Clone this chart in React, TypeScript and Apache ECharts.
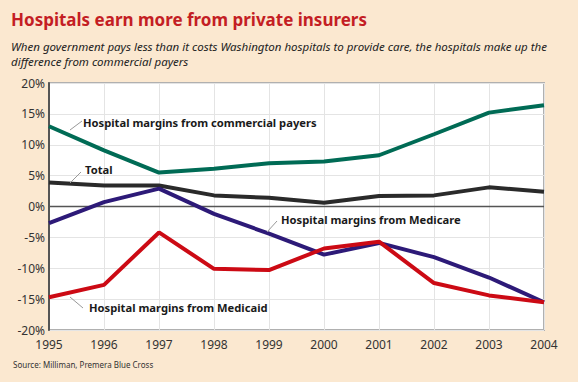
import React, { useEffect, useRef } from "react";
import * as echarts from "echarts";

const years = ["1995", "1996", "1997", "1998", "1999", "2000", "2001", "2002", "2003", "2004"];
const commercial = [13.0, 9.1, 5.5, 6.1, 7.0, 7.3, 8.3, 11.7, 15.2, 16.4];
const total = [3.9, 3.4, 3.4, 1.8, 1.4, 0.6, 1.7, 1.8, 3.1, 2.4];
const medicare = [-2.7, 0.7, 2.9, -1.2, -4.4, -7.8, -5.9, -8.2, -11.5, -15.5];
const medicaid = [-14.7, -12.7, -4.2, -10.1, -10.3, -6.8, -5.7, -12.4, -14.4, -15.5];

const TITLE = "Hospitals earn more from private insurers";
const SUBTITLE1 = "When government pays less than it costs Washington hospitals to provide care, the hospitals make up the";
const SUBTITLE2 = "difference from commercial payers";
const SOURCE = "Source: Milliman, Premera Blue Cross";

const FONT = "'Noto Sans', 'Open Sans', sans-serif";

export default function App() {
  const ref = useRef<HTMLDivElement>(null);
  useEffect(() => {
    if (!ref.current) return;
    const chart = echarts.init(ref.current, null, { renderer: "svg" });
    const labelStyle = { fontFamily: FONT, fontSize: 11.2, fontWeight: "bold" as const, fill: "#1a1a1a" };
    const leader = (x1: number, y1: number, x2: number, y2: number) => ({
      type: "line",
      shape: { x1, y1, x2, y2 },
      style: { stroke: "#999", lineWidth: 1 },
      z: 10,
    });
    chart.setOption({
      animation: false,
      backgroundColor: "#fbe8d0",
      grid: { left: 49, right: 34, top: 83, bottom: 52, show: true, backgroundColor: "#ffffff", borderColor: "#b0b0b0", borderWidth: 2 },
      xAxis: {
        type: "category",
        data: years,
        boundaryGap: false,
        axisLine: { show: false },
        axisTick: { show: false },
        axisLabel: { color: "#333", fontFamily: FONT, fontSize: 12, margin: 8 },
        splitLine: { show: true, lineStyle: { color: "#e4e4e4", width: 1 } },
      },
      yAxis: {
        type: "value",
        min: -20,
        max: 20,
        interval: 5,
        axisLine: { show: true, onZero: false, lineStyle: { color: "#555", width: 2 } },
        axisTick: { show: false },
        axisLabel: { color: "#333", fontFamily: FONT, fontSize: 12, margin: 4, formatter: "{value}%" },
        splitLine: { show: true, lineStyle: { color: "#e4e4e4", width: 1 } },
      },
      series: [
        { name: "Zero", type: "line", data: years.map(() => 0), symbol: "none", lineStyle: { color: "#555", width: 1.5 }, z: 1, silent: true },
        { name: "Commercial", type: "line", data: commercial, symbol: "none", lineStyle: { color: "#006b55", width: 4 }, z: 3 },
        { name: "Total", type: "line", data: total, symbol: "none", lineStyle: { color: "#2a2a2a", width: 4 }, z: 3 },
        { name: "Medicare", type: "line", data: medicare, symbol: "none", lineStyle: { color: "#2d1a78", width: 4 }, z: 3 },
        { name: "Medicaid", type: "line", data: medicaid, symbol: "none", lineStyle: { color: "#cc0a14", width: 4 }, z: 4 },
      ],
      graphic: [
        { type: "text", left: 11, top: 11, style: { text: TITLE, fontFamily: FONT, fontSize: 17, fontWeight: "bold", fill: "#c41e24" } },
        { type: "text", left: 11, top: 40, style: { text: SUBTITLE1, fontFamily: FONT, fontSize: 11.5, fontStyle: "italic", fill: "#222" } },
        { type: "text", left: 11, top: 55, style: { text: SUBTITLE2, fontFamily: FONT, fontSize: 11.5, fontStyle: "italic", fill: "#222" } },
        { type: "text", left: 13, top: 360, style: { text: SOURCE, fontFamily: FONT, fontSize: 8, fill: "#333" } },
        { type: "text", x: 83, y: 117, style: { ...labelStyle, text: "Hospital margins from commercial payers" }, z: 10 },
        leader(70, 130, 82, 121),
        { type: "text", x: 85, y: 164, style: { ...labelStyle, text: "Total" }, z: 10 },
        leader(70, 183, 81, 172),
        { type: "text", x: 281, y: 214, style: { ...labelStyle, text: "Hospital margins from Medicare" }, z: 10 },
        leader(267, 232, 277, 221),
        { type: "text", x: 89, y: 302, style: { ...labelStyle, text: "Hospital margins from Medicaid" }, z: 10 },
        leader(70, 297, 83, 308),
      ],
    });
    return () => chart.dispose();
  }, []);
  return <div ref={ref} style={{ position: "absolute", left: 0, top: 0, width: 578, height: 382 }} />;
}
